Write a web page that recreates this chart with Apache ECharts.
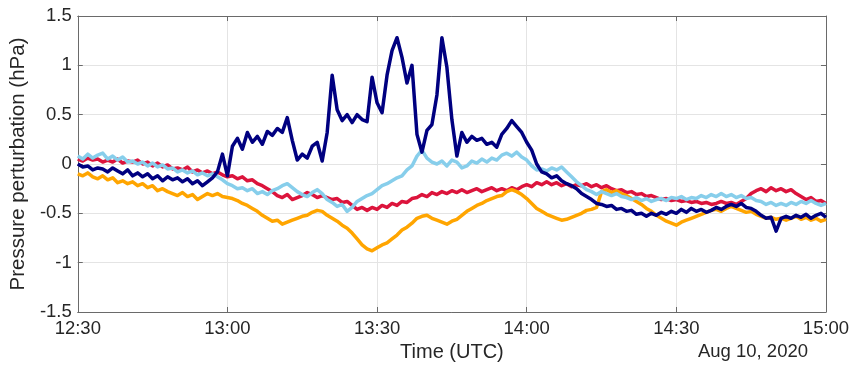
<!DOCTYPE html>
<html>
<head>
<meta charset="utf-8">
<script src="https://cdn.jsdelivr.net/npm/echarts@6/dist/echarts.min.js"></script>
<style>
html,body{margin:0;padding:0;background:#fff;}
#main{width:853px;height:369px;}
</style>
</head>
<body>
<div id="main"></div>
<script>
// minutes after 12:30 UTC, one sample per minute (0..150)
var tickLabels = ['12:30', '13:00', '13:30', '14:00', '14:30', '15:00'];
var yTicks = [-1.5, -1, -0.5, 0, 0.5, 1, 1.5];

var redData = [0.05,0.03,0.06,0.04,0.05,0.02,0.04,0.02,0.05,0.01,0.03,
  0.02,0.04,0.00,0.02,-0.02,0.01,-0.03,-0.01,-0.05,-0.04,
  -0.06,-0.03,-0.08,-0.06,-0.09,-0.07,-0.10,-0.08,-0.11,-0.13,
  -0.12,-0.15,-0.13,-0.17,-0.16,-0.20,-0.22,-0.25,-0.28,-0.32,
  -0.34,-0.31,-0.36,-0.34,-0.32,-0.29,-0.31,-0.34,-0.32,-0.34,
  -0.36,-0.35,-0.39,-0.38,-0.42,-0.46,-0.44,-0.47,-0.44,-0.46,
  -0.42,-0.44,-0.40,-0.42,-0.38,-0.39,-0.35,-0.34,-0.31,-0.33,
  -0.29,-0.31,-0.28,-0.30,-0.27,-0.29,-0.26,-0.29,-0.27,-0.25,
  -0.28,-0.26,-0.24,-0.27,-0.25,-0.27,-0.24,-0.26,-0.23,-0.21,
  -0.23,-0.19,-0.21,-0.18,-0.21,-0.19,-0.22,-0.20,-0.23,-0.21,
  -0.22,-0.20,-0.23,-0.21,-0.24,-0.22,-0.25,-0.27,-0.26,-0.29,
  -0.28,-0.31,-0.30,-0.33,-0.32,-0.34,-0.36,-0.35,-0.37,-0.36,
  -0.38,-0.37,-0.39,-0.38,-0.40,-0.39,-0.41,-0.40,-0.38,-0.40,
  -0.39,-0.41,-0.38,-0.35,-0.30,-0.27,-0.25,-0.28,-0.24,-0.27,
  -0.25,-0.28,-0.26,-0.30,-0.33,-0.36,-0.34,-0.38,-0.37,-0.40];

var orangeData = [-0.10,-0.12,-0.09,-0.13,-0.15,-0.12,-0.16,-0.14,-0.19,-0.17,-0.20,
  -0.18,-0.22,-0.20,-0.24,-0.22,-0.27,-0.25,-0.28,-0.30,-0.32,
  -0.29,-0.33,-0.31,-0.36,-0.33,-0.30,-0.32,-0.30,-0.33,-0.34,
  -0.35,-0.37,-0.40,-0.42,-0.45,-0.48,-0.52,-0.55,-0.58,-0.57,
  -0.61,-0.59,-0.57,-0.55,-0.53,-0.52,-0.49,-0.47,-0.48,-0.52,
  -0.55,-0.58,-0.62,-0.65,-0.70,-0.76,-0.82,-0.86,-0.88,-0.85,
  -0.82,-0.80,-0.76,-0.72,-0.67,-0.64,-0.60,-0.55,-0.53,-0.52,
  -0.55,-0.57,-0.59,-0.61,-0.58,-0.56,-0.52,-0.48,-0.45,-0.42,
  -0.40,-0.37,-0.35,-0.33,-0.32,-0.28,-0.26,-0.28,-0.31,-0.35,
  -0.40,-0.45,-0.48,-0.51,-0.53,-0.55,-0.57,-0.56,-0.54,-0.52,
  -0.50,-0.47,-0.46,-0.44,-0.28,-0.26,-0.29,-0.27,-0.30,-0.32,
  -0.35,-0.38,-0.41,-0.45,-0.48,-0.52,-0.55,-0.58,-0.60,-0.62,
  -0.59,-0.57,-0.55,-0.53,-0.51,-0.49,-0.47,-0.46,-0.48,-0.45,
  -0.43,-0.45,-0.47,-0.49,-0.48,-0.51,-0.53,-0.55,-0.54,-0.56,
  -0.55,-0.57,-0.55,-0.53,-0.56,-0.54,-0.57,-0.55,-0.58,-0.56];

var lightBlueData = [0.08,0.05,0.10,0.06,0.09,0.11,0.05,0.08,0.04,0.07,0.02,
  0.03,0.00,0.02,-0.02,0.01,-0.03,-0.01,-0.05,-0.04,-0.08,
  -0.06,-0.09,-0.07,-0.11,-0.09,-0.12,-0.10,-0.13,-0.16,-0.20,
  -0.22,-0.25,-0.24,-0.27,-0.25,-0.30,-0.28,-0.31,-0.27,-0.25,
  -0.22,-0.20,-0.24,-0.28,-0.31,-0.33,-0.29,-0.26,-0.30,-0.36,
  -0.39,-0.43,-0.41,-0.48,-0.44,-0.38,-0.35,-0.32,-0.30,-0.26,
  -0.22,-0.20,-0.17,-0.14,-0.12,-0.06,-0.02,0.08,0.14,0.06,
  0.02,0.00,0.03,-0.02,0.04,0.02,-0.04,-0.02,0.03,0.01,
  0.05,0.02,0.06,0.04,0.09,0.11,0.08,0.12,0.07,0.04,
  -0.02,-0.06,-0.05,-0.07,-0.04,-0.06,-0.03,-0.08,-0.13,-0.18,
  -0.22,-0.26,-0.28,-0.31,-0.28,-0.30,-0.32,-0.30,-0.33,-0.34,
  -0.36,-0.34,-0.37,-0.35,-0.38,-0.36,-0.35,-0.37,-0.34,-0.35,
  -0.33,-0.36,-0.34,-0.35,-0.32,-0.34,-0.31,-0.33,-0.30,-0.33,
  -0.31,-0.34,-0.32,-0.35,-0.34,-0.37,-0.38,-0.41,-0.39,-0.42,
  -0.40,-0.42,-0.39,-0.41,-0.38,-0.40,-0.37,-0.40,-0.42,-0.40];

var navyData = [0.00,-0.03,-0.02,-0.06,-0.04,-0.05,-0.08,-0.04,-0.07,-0.10,-0.06,
  -0.12,-0.09,-0.13,-0.10,-0.15,-0.12,-0.17,-0.13,-0.16,-0.14,
  -0.18,-0.15,-0.20,-0.17,-0.22,-0.18,-0.14,-0.08,0.10,-0.12,
  0.18,0.26,0.15,0.32,0.22,0.28,0.20,0.33,0.29,0.36,
  0.32,0.47,0.24,0.04,0.10,0.06,0.18,0.22,0.03,0.32,
  0.90,0.55,0.44,0.50,0.42,0.50,0.45,0.43,0.88,0.62,
  0.52,0.90,1.15,1.28,1.08,0.82,1.00,0.30,0.12,0.34,
  0.40,0.70,1.28,0.98,0.45,0.08,0.32,0.22,0.28,0.24,
  0.26,0.20,0.22,0.17,0.30,0.36,0.44,0.38,0.32,0.22,
  0.14,0.00,-0.08,-0.10,-0.14,-0.12,-0.17,-0.20,-0.22,-0.25,
  -0.30,-0.33,-0.36,-0.40,-0.41,-0.43,-0.42,-0.46,-0.45,-0.48,
  -0.47,-0.51,-0.50,-0.53,-0.50,-0.52,-0.49,-0.51,-0.48,-0.50,
  -0.46,-0.49,-0.45,-0.48,-0.46,-0.49,-0.47,-0.44,-0.46,-0.43,
  -0.41,-0.43,-0.40,-0.44,-0.45,-0.48,-0.52,-0.55,-0.54,-0.68,
  -0.55,-0.53,-0.55,-0.52,-0.54,-0.51,-0.55,-0.52,-0.50,-0.54];

function pairs(arr) {
  var out = [];
  for (var i = 0; i < arr.length; i++) out.push([i, arr[i]]);
  return out;
}

var textColor = '#262626';
var axisColor = '#6a6a6a';
var fontFam = 'Liberation Sans, Arial, sans-serif';

var myChart = echarts.init(document.getElementById('main'));
var option = {
  animation: false,
  grid: { left: 76, right: 27, top: 16, bottom: 57 },
  xAxis: [{
    type: 'value', min: 0, max: 150, interval: 30,
    name: 'Time (UTC)', nameLocation: 'middle', nameGap: 28,
    nameTextStyle: { color: textColor, fontSize: 20, fontFamily: fontFam },
    axisLine: { show: true, onZero: false, lineStyle: { color: axisColor } },
    axisTick: { show: true, inside: true, length: 5, lineStyle: { color: axisColor } },
    axisLabel: {
      color: textColor, fontSize: 18.5, fontFamily: fontFam, margin: 7,
      formatter: function (v) { return tickLabels[v / 30]; }
    },
    splitLine: { show: true, lineStyle: { color: '#e4e4e4' } }
  }, {
    type: 'value', min: 0, max: 150, interval: 30, position: 'top',
    axisLine: { show: true, onZero: false, lineStyle: { color: axisColor } },
    axisTick: { show: true, inside: true, length: 5, lineStyle: { color: axisColor } },
    axisLabel: { show: false }, splitLine: { show: false }
  }],
  yAxis: [{
    type: 'value', min: -1.5, max: 1.5, interval: 0.5,
    name: 'Pressure perturbation (hPa)', nameLocation: 'middle', nameGap: 44,
    nameTextStyle: { color: textColor, fontSize: 20.5, fontFamily: fontFam },
    axisLine: { show: true, onZero: false, lineStyle: { color: axisColor } },
    axisTick: { show: true, inside: true, length: 5, lineStyle: { color: axisColor } },
    axisLabel: {
      color: textColor, fontSize: 18.5, fontFamily: fontFam, margin: 6,
      formatter: function (v) { return yTicks.indexOf(v) >= 0 ? String(v) : ''; }
    },
    splitLine: { show: true, lineStyle: { color: '#e4e4e4' } }
  }, {
    type: 'value', min: -1.5, max: 1.5, interval: 0.5, position: 'right',
    axisLine: { show: true, onZero: false, lineStyle: { color: axisColor } },
    axisTick: { show: true, inside: true, length: 5, lineStyle: { color: axisColor } },
    axisLabel: { show: false }, splitLine: { show: false }
  }],
  graphic: [{
    type: 'text', right: 45, top: 342,
    style: { text: 'Aug 10, 2020', fill: textColor, font: '18.5px ' + fontFam }
  }],
  series: [
    { name: 'red', type: 'line', data: pairs(redData), showSymbol: false,
      lineStyle: { color: '#dc143c', width: 3.5, join: 'round' } },
    { name: 'orange', type: 'line', data: pairs(orangeData), showSymbol: false,
      lineStyle: { color: '#ffa500', width: 3.5, join: 'round' } },
    { name: 'lightblue', type: 'line', data: pairs(lightBlueData), showSymbol: false,
      lineStyle: { color: '#87ceeb', width: 3.5, join: 'round' } },
    { name: 'navy', type: 'line', data: pairs(navyData), showSymbol: false,
      lineStyle: { color: '#000080', width: 3.5, join: 'round' } }
  ]
};
myChart.setOption(option);
</script>
</body>
</html>
